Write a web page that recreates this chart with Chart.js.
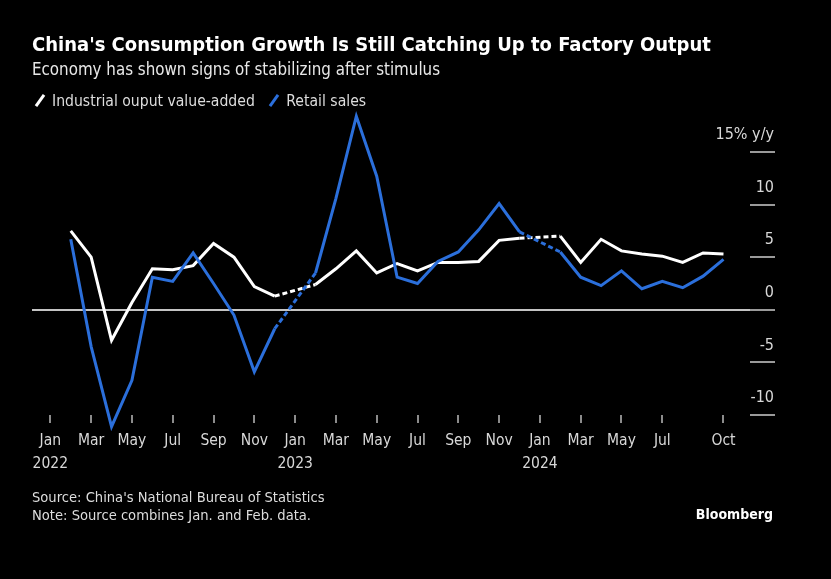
<!DOCTYPE html>
<html>
<head>
<meta charset="utf-8">
<script src="https://cdn.jsdelivr.net/npm/chart.js@4.4.1/dist/chart.umd.min.js"></script>
<style>
  html, body { margin: 0; padding: 0; background: #000; }
  body {
    width: 831px; height: 579px; position: relative; overflow: hidden;
    font-family: "DejaVu Sans Condensed", "Liberation Sans Narrow", "DejaVu Sans", sans-serif;
    color: #fff;
  }
  #chart { position: absolute; left: 0; top: 0; }
  .title { position: absolute; left: 32px; top: 32px; font-weight: bold; font-size: 20px; white-space: nowrap; }
  .subtitle { position: absolute; left: 32px; top: 59px; font-size: 16.8px; color: #e8e8e8; white-space: nowrap; }
  .legend { position: absolute; left: 31px; top: 92px; font-size: 15.6px; color: #ddd; white-space: nowrap; }
  .legend .key { display: inline-block; width: 14px; height: 3px; transform: rotate(-55deg); vertical-align: middle; margin: 0 5px 2px 2px; }
  .legend .item { margin-right: 6px; }
  .source { position: absolute; left: 32px; top: 488px; font-size: 14.6px; color: #ddd; line-height: 18px; white-space: nowrap; }
  .brand { position: absolute; right: 58px; top: 506px; font-size: 14px; font-weight: bold; color: #fff; }
</style>
</head>
<body>
<canvas id="chart" width="831" height="579"></canvas>
<div class="title">China's Consumption Growth Is Still Catching Up to Factory Output</div>
<div class="subtitle">Economy has shown signs of stabilizing after stimulus</div>
<div class="legend">
  <span class="item"><span class="key" style="background:#fff"></span>Industrial ouput value-added</span>
  <span class="item"><span class="key" style="background:#2b6fdb"></span>Retail sales</span>
</div>
<div class="source">Source: China's National Bureau of Statistics<br>Note: Source combines Jan. and Feb. data.</div>
<div class="brand">Bloomberg</div>
<script>
// month index: 0 = Jan 2022 (Jan and Feb are reported together, plotted at Feb)
const monthIdx = [1, 2, 3, 4, 5, 6, 7, 8, 9, 10, 11,
                  13, 14, 15, 16, 17, 18, 19, 20, 21, 22, 23,
                  25, 26, 27, 28, 29, 30, 31, 32, 33];
const industrial = [7.5, 5.0, -2.9, 0.7, 3.9, 3.8, 4.2, 6.3, 5.0, 2.2, 1.3,
                    2.4, 3.9, 5.6, 3.5, 4.4, 3.7, 4.5, 4.5, 4.6, 6.6, 6.8,
                    7.0, 4.5, 6.7, 5.6, 5.3, 5.1, 4.5, 5.4, 5.3];
const retail = [6.7, -3.5, -11.1, -6.7, 3.1, 2.7, 5.4, 2.5, -0.5, -5.9, -1.8,
                3.5, 10.6, 18.4, 12.7, 3.1, 2.5, 4.6, 5.5, 7.6, 10.1, 7.4,
                5.5, 3.1, 2.3, 3.7, 2.0, 2.7, 2.1, 3.2, 4.8];

const tickMonths = [0, 2, 4, 6, 8, 10, 12, 14, 16, 18, 20, 22, 24, 26, 28, 30, 33];
const tickLabels = [["Jan", "2022"], "Mar", "May", "Jul", "Sep", "Nov",
                    ["Jan", "2023"], "Mar", "May", "Jul", "Sep", "Nov",
                    ["Jan", "2024"], "Mar", "May", "Jul", "Oct"];
const yTicks = [-10, -5, 0, 5, 10, 15];

const fontFamily = '"DejaVu Sans Condensed", "Liberation Sans Narrow", "DejaVu Sans", sans-serif';

function toPoints(values) {
    return values.map((v, i) => ({ x: monthIdx[i], y: v }));
}

// dashed where the Jan/Feb gap is bridged
const bridgeDash = ctx => (ctx.p1.parsed.x - ctx.p0.parsed.x > 1 ? [5, 3] : undefined);

new Chart(document.getElementById("chart"), {
    type: "line",
    data: {
        datasets: [{
            label: "Industrial ouput value-added",
            data: toPoints(industrial),
            borderColor: "#ffffff",
            borderWidth: 3,
            pointRadius: 0,
            clip: false,
            order: 1,
            segment: { borderDash: bridgeDash }
        }, {
            label: "Retail sales",
            data: toPoints(retail),
            borderColor: "#2b6fdb",
            borderWidth: 3,
            pointRadius: 0,
            clip: false,
            order: 0,
            segment: { borderDash: bridgeDash }
        }]
    },
    options: {
        responsive: false,
        animation: false,
        layout: { padding: { left: 32, right: 57, top: 152, bottom: 104 } },
        plugins: {
            legend: { display: false },
            tooltip: { enabled: false }
        },
        scales: {
            x: {
                type: "linear",
                min: -0.9,
                max: 34.3,
                afterBuildTicks: scale => { scale.ticks = tickMonths.map(v => ({ value: v })); },
                afterFit: scale => { scale.height = 60; },
                border: { display: false },
                grid: { drawOnChartArea: false, tickLength: 8, tickColor: "#8c8c8c", lineWidth: 2 },
                ticks: {
                    autoSkip: false,
                    maxRotation: 0,
                    padding: 6,
                    color: "#d8d8d8",
                    font: { family: fontFamily, size: 15.5, lineHeight: 1.5 },
                    callback: (v, i) => tickLabels[i]
                }
            },
            y: {
                position: "right",
                min: -10,
                max: 15,
                afterBuildTicks: scale => { scale.ticks = yTicks.map(v => ({ value: v })); },
                afterFit: scale => { scale.width = 24; },
                border: { display: false },
                grid: {
                    color: ctx => (ctx.tick && ctx.tick.value === 0 ? "#c4c4c4" : "rgba(0,0,0,0)"),
                    tickColor: "#9a9a9a",
                    lineWidth: 2,
                    tickLength: 25
                },
                ticks: {
                    mirror: true,
                    crossAlign: "near",
                    labelOffset: -17,
                    padding: 24,
                    color: "#d8d8d8",
                    font: { family: fontFamily, size: 16 },
                    callback: v => (v === 15 ? "15% y/y" : v)
                }
            }
        }
    }
});
</script>
</body>
</html>
